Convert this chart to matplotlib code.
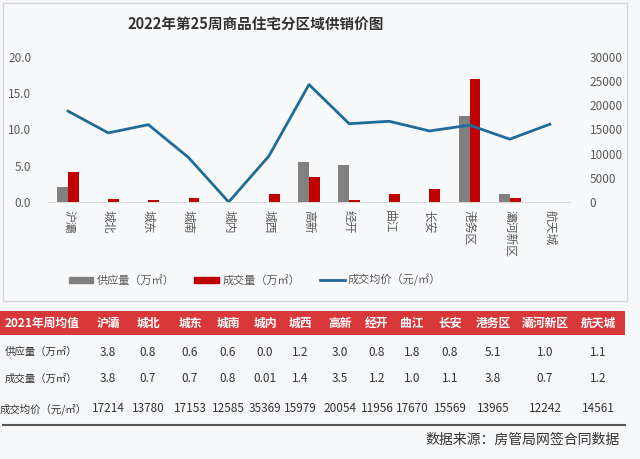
import matplotlib
matplotlib.use('Agg')
import matplotlib.pyplot as plt
from matplotlib.patches import Rectangle
from matplotlib.lines import Line2D
import numpy as np

plt.rcParams['font.family'] = ['Noto Sans CJK SC', 'DejaVu Sans']

districts = ['沪灞', '城北', '城东', '城南', '城内', '城西', '高新', '经开', '曲江', '长安', '港务区', '灞河新区', '航天城']
supply = [2.0, 0, 0, 0, 0, 0, 5.5, 5.1, 0, 0, 11.9, 1.15, 0]
deal = [4.1, 0.4, 0.3, 0.6, 0, 1.1, 3.45, 0.3, 1.05, 1.75, 17.0, 0.6, 0]
price = [18800, 14300, 16000, 9200, 0, 9500, 24300, 16200, 16700, 14700, 15900, 13000, 16100]

# 2021 weekly averages table
tbl_head = '2021年周均值'
tbl_rows = ['供应量（万㎡）', '成交量（万㎡）', '成交均价（元/㎡）']
avg_supply = ['3.8', '0.8', '0.6', '0.6', '0.0', '1.2', '3.0', '0.8', '1.8', '0.8', '5.1', '1.0', '1.1']
avg_deal = ['3.8', '0.7', '0.7', '0.8', '0.01', '1.4', '3.5', '1.2', '1.0', '1.1', '3.8', '0.7', '1.2']
avg_price = ['17214', '13780', '17153', '12585', '35369', '15979', '20054', '11956', '17670', '15569', '13965', '12242', '14561']

W, H = 640, 459
fig = plt.figure(figsize=(6.4, 4.59), dpi=100)
fig.patch.set_facecolor('#f6f7f9')

def fx(px):
    return px / W

def fy(py):
    return 1 - py / H

# chart panel border
fig.patches.append(Rectangle((fx(3), fy(301)), fx(624), (298) / H, transform=fig.transFigure,
                             facecolor='#f8f9fb', edgecolor='#d6d6d6', lw=1, zorder=-10))

fig.text(fx(256), fy(24), '2022年第25周商品住宅分区域供销价图', ha='center', va='center',
         fontsize=10.5, color='#333333', weight='bold')

ax = fig.add_axes([fx(48), fy(202), fx(522), (202 - 57) / H])
ax.set_facecolor('none')
x = np.arange(len(districts))
bw = 0.27
ax.bar(x - bw / 2, supply, bw, color='#808080', label='供应量（万㎡）')
ax.bar(x + bw / 2, deal, bw, color='#c00000', label='成交量（万㎡）')
ax.set_ylim(0, 20)
ax.set_yticks([0, 5, 10, 15, 20])
ax.set_yticklabels(['%.1f' % v for v in [0, 5, 10, 15, 20]])
ax.set_xlim(-0.5, len(districts) - 0.5)
ax.set_xticks(x)
ax.set_xticklabels(districts, rotation=270, fontsize=8, color='#595959')
for s in ['top', 'left', 'right']:
    ax.spines[s].set_visible(False)
ax.spines['bottom'].set_color('#d9d9d9')
ax.tick_params(axis='both', length=0, labelsize=8.5, labelcolor='#595959')
ax.tick_params(axis='y', pad=12)
ax.tick_params(axis='x', pad=6)

ax2 = ax.twinx()
ax2.plot(x, price, color='#1f6b9a', lw=2, label='成交均价（元/㎡）')
ax2.set_ylim(0, 30000)
ax2.set_yticks(range(0, 30001, 5000))
for s in ['top', 'left', 'right', 'bottom']:
    ax2.spines[s].set_visible(False)
ax2.tick_params(axis='y', length=0, labelsize=8.5, labelcolor='#595959', pad=14)

handles = [Rectangle((0, 0), 1, 1, color='#808080'), Rectangle((0, 0), 1, 1, color='#c00000'),
           Line2D([], [], color='#1f6b9a', lw=2)]
fig.legend(handles, ['供应量（万㎡）', '成交量（万㎡）', '成交均价（元/㎡）'], loc='center',
           bbox_to_anchor=(fx(255), fy(280)), ncol=3, frameon=False, fontsize=8,
           handlelength=2.2, handleheight=0.45, columnspacing=1.8, handletextpad=0.3,
           labelcolor='#595959')

# table
fig.patches.append(Rectangle((fx(0), fy(335)), fx(625), 24 / H, transform=fig.transFigure,
                             facecolor='#d9383a', edgecolor='none', zorder=1))
col_x = [108, 148, 190, 228, 265, 300, 340, 377, 412, 450, 493, 545, 598]
fig.text(fx(5), fy(323), tbl_head, ha='left', va='center', fontsize=8.5, color='white', weight='bold')
for cx, name in zip(col_x, districts):
    fig.text(fx(cx), fy(323), name, ha='center', va='center', fontsize=8.5, color='white', weight='bold')

row_y = [352, 379, 409]
for ry, label, vals in zip(row_y, tbl_rows, [avg_supply, avg_deal, avg_price]):
    lx = 0 if label.startswith('成交均价') else 5
    fig.text(fx(lx), fy(ry), label, ha='left', va='center', fontsize=7.5, color='#333333')
    for cx, v in zip(col_x, vals):
        fig.text(fx(cx), fy(ry), v, ha='center', va='center', fontsize=8.5, color='#333333')

fig.add_artist(Line2D([fx(3), fx(625)], [fy(425), fy(425)], color='#555555', lw=1.5,
                      transform=fig.transFigure))
fig.text(fx(620), fy(440), '数据来源：房管局网签合同数据', ha='right', va='center',
         fontsize=10, color='#333333')

fig.savefig('out.png', dpi=100, facecolor=fig.get_facecolor())
